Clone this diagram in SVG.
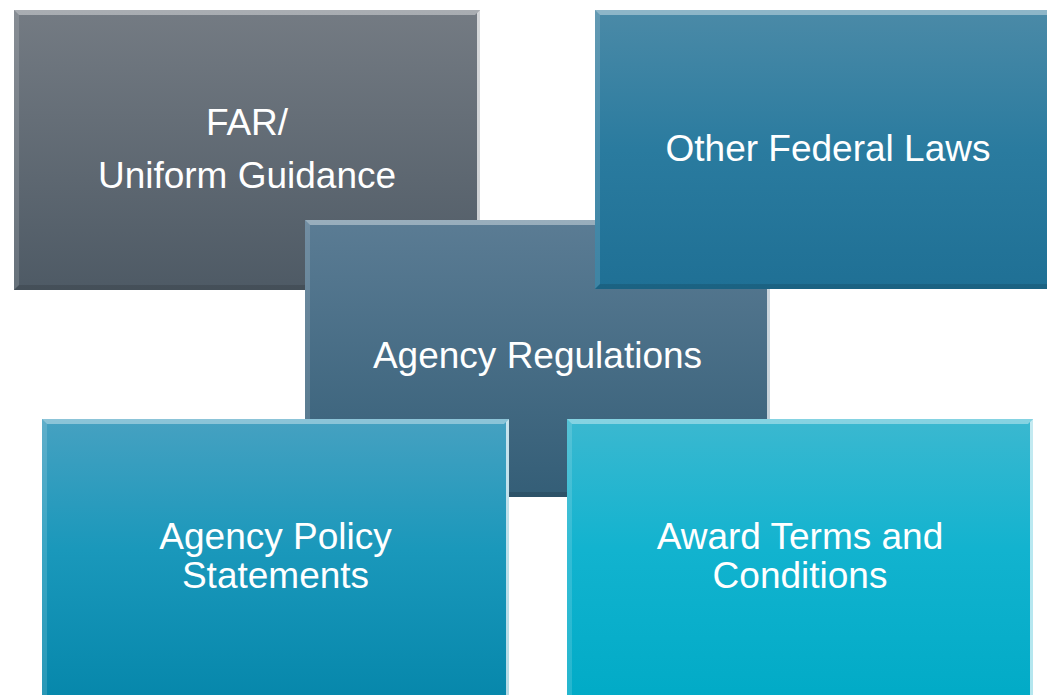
<svg xmlns="http://www.w3.org/2000/svg" width="1047" height="695" viewBox="0 0 1047 695">
  <defs>
    <linearGradient id="gFar" x1="0" y1="0" x2="0" y2="1">
      <stop offset="0" stop-color="#747b83"/>
      <stop offset="1" stop-color="#4e5a65"/>
    </linearGradient>
    <linearGradient id="gLaws" x1="0" y1="0" x2="0" y2="1">
      <stop offset="0" stop-color="#4b8aa7"/>
      <stop offset="0.5" stop-color="#2a7b9f"/>
      <stop offset="1" stop-color="#1f7095"/>
    </linearGradient>
    <linearGradient id="gRegs" x1="0" y1="0" x2="0" y2="1">
      <stop offset="0" stop-color="#5b7c94"/>
      <stop offset="1" stop-color="#345e77"/>
    </linearGradient>
    <linearGradient id="gPolicy" x1="0" y1="0" x2="0" y2="1">
      <stop offset="0" stop-color="#46a1c1"/>
      <stop offset="0.45" stop-color="#1a98bb"/>
      <stop offset="1" stop-color="#0586aa"/>
    </linearGradient>
    <linearGradient id="gAward" x1="0" y1="0" x2="0" y2="1">
      <stop offset="0" stop-color="#3bb8d0"/>
      <stop offset="0.45" stop-color="#12b3cf"/>
      <stop offset="1" stop-color="#00aac6"/>
    </linearGradient>
  </defs>
  <style>
    .lbl { font-family: "Liberation Sans", Arial, sans-serif; font-size: 37px; fill: #ffffff; text-anchor: middle; }
    .bvT { fill: #ffffff; opacity: 0.38; }
    .bvL { fill: #ffffff; opacity: 0.14; }
    .bvR { fill: #ffffff; opacity: 0.7; }
    .bvB { fill: #000000; opacity: 0.12; }
  </style>

  <!-- FAR / Uniform Guidance -->
  <g id="far">
    <rect x="14" y="10" width="466" height="280" fill="url(#gFar)"/>
    <polygon class="bvT" points="14,10 480,10 475,15 19,15"/>
    <polygon class="bvL" points="14,10 19,15 19,285 14,290"/>
    <polygon class="bvR" points="480,10 480,290 477,287 477,13"/>
    <polygon class="bvB" points="14,290 480,290 475,285 19,285"/>
    <text class="lbl" x="247" y="135">FAR/</text>
    <text class="lbl" x="247" y="188">Uniform Guidance</text>
  </g>

  <!-- Agency Regulations -->
  <g id="regs">
    <rect x="305" y="220" width="465" height="277" fill="url(#gRegs)"/>
    <polygon class="bvT" points="305,220 770,220 765,225 310,225"/>
    <polygon class="bvL" points="305,220 310,225 310,492 305,497"/>
    <polygon class="bvR" points="770,220 770,497 767,494 767,223"/>
    <polygon class="bvB" points="305,497 770,497 765,492 310,492"/>
    <text class="lbl" x="537.5" y="368">Agency Regulations</text>
  </g>

  <!-- Other Federal Laws -->
  <g id="laws">
    <rect x="595" y="10" width="470" height="279" fill="url(#gLaws)"/>
    <polygon class="bvT" points="595,10 1065,10 1060,15 600,15"/>
    <polygon class="bvL" points="595,10 600,15 600,284 595,289"/>
    <polygon class="bvB" points="595,289 1065,289 1060,284 600,284"/>
    <text class="lbl" x="828" y="161">Other Federal Laws</text>
  </g>

  <!-- Agency Policy Statements -->
  <g id="policy">
    <rect x="42" y="419" width="467" height="290" fill="url(#gPolicy)"/>
    <polygon class="bvT" points="42,419 509,419 504,424 47,424"/>
    <polygon class="bvL" points="42,419 47,424 47,704 42,709"/>
    <polygon class="bvR" points="509,419 509,709 506,706 506,422"/>
    <text class="lbl" x="275.5" y="549">Agency Policy</text>
    <text class="lbl" x="275.5" y="588">Statements</text>
  </g>

  <!-- Award Terms and Conditions -->
  <g id="award">
    <rect x="567" y="419" width="466" height="290" fill="url(#gAward)"/>
    <polygon class="bvT" points="567,419 1033,419 1028,424 572,424"/>
    <polygon class="bvL" points="567,419 572,424 572,704 567,709"/>
    <polygon class="bvR" points="1033,419 1033,709 1030,706 1030,422"/>
    <text class="lbl" x="800" y="549">Award Terms and</text>
    <text class="lbl" x="800" y="588">Conditions</text>
  </g>

  <!-- no connectors in this layout -->
  <g id="connectors"/>
</svg>
